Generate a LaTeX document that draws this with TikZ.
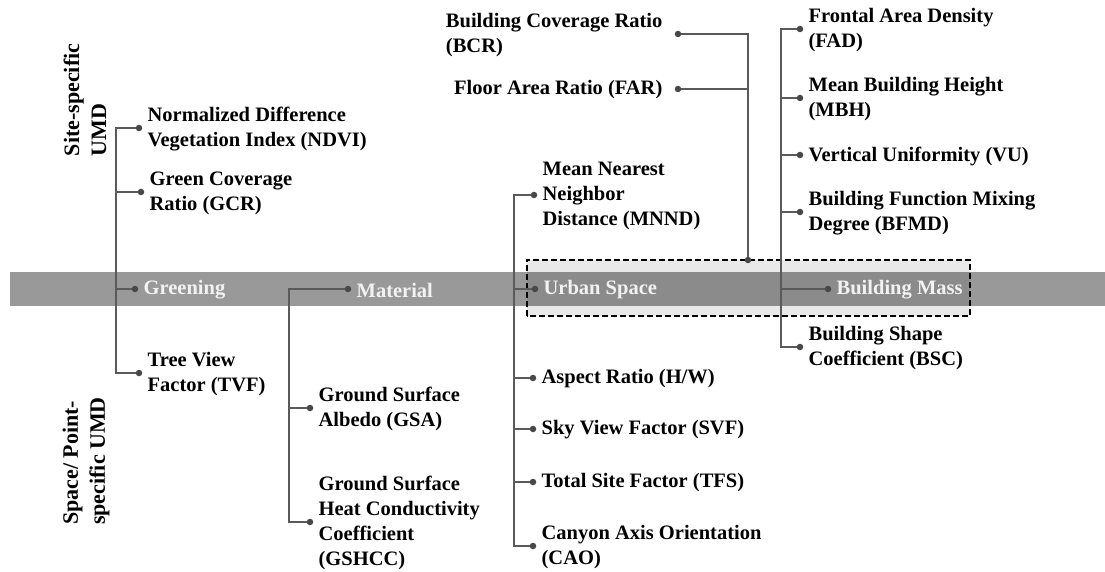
\documentclass[tikz,border=0pt]{standalone}
\usepackage{fontspec}
\setmainfont{Liberation Serif}
\usetikzlibrary{shapes,arrows}
\definecolor{bandgray}{HTML}{999999}
\definecolor{banddark}{HTML}{8B8B8B}
\definecolor{boxgray}{HTML}{E9E9E9}
\definecolor{linegray}{HTML}{5A5A5A}
\definecolor{dotgray}{HTML}{484848}

\begin{document}
\begin{tikzpicture}[x=1pt,y=-1pt]
	\tikzstyle{leaf}=[anchor=west,align=left,inner xsep=5pt,inner ysep=0pt,
	yshift=-1pt,font=\bfseries\fontsize{20.5}{25}\selectfont]
	\tikzstyle{leafl}=[leaf,anchor=east,inner xsep=12pt]
	\tikzstyle{main}=[leaf,text=white!95!black]
	\tikzstyle{side}=[rotate=90,align=left,inner sep=0pt,
	font=\bfseries\fontsize{22}{27}\selectfont]
	\tikzstyle{dot}=[circle,fill=dotgray,inner sep=0pt,minimum size=6.5pt]
	\tikzstyle{focusbox}=[rectangle,fill=boxgray,inner sep=0pt,
	minimum width=443pt,minimum height=56pt]
	\tikzstyle{focusline}=[draw=black,line width=1.6pt,dash pattern=on 6pt off 3pt]
	\tikzstyle{link}=[draw=linegray,line width=1.2pt]

	\useasboundingbox (0,0) rectangle (1105,572);

	\node[focusbox] (focus) at (748.5,288) {};
	\fill[bandgray] (10,272) rectangle (1105,306);
	\fill[banddark] (focus.west |- 0,272) rectangle (focus.east |- 0,306);
	\draw[focusline] (focus.south west) rectangle (focus.north east);

	\node[side] (site) at (85,100) {Site-specific\\UMD};
	\node[side] (space) at (86,461) {Space/ Point-\\specific UMD};

	\coordinate (tG) at (116,0);
	\coordinate (tM) at (289,0);
	\coordinate (tU) at (514,0);
	\coordinate (tB) at (781,0);
	\coordinate (tJ) at (748,0);

	\node[dot] (dNDVI) at (139,128) {};
	\node[dot] (dGCR) at (141,192) {};
	\node[dot] (dGre) at (135,289) {};
	\node[dot] (dTVF) at (139,373) {};
	\node[dot] (dMat) at (348,289) {};
	\node[dot] (dGSA) at (310,408) {};
	\node[dot] (dGSHCC) at (310,522) {};
	\node[dot] (dMNND) at (534,195) {};
	\node[dot] (dUS) at (535,289) {};
	\node[dot] (dAR) at (533,378) {};
	\node[dot] (dSVF) at (533,429) {};
	\node[dot] (dTFS) at (533,482) {};
	\node[dot] (dCAO) at (533,546) {};
	\node[dot] (dBCR) at (678,34) {};
	\node[dot] (dFAR) at (678,89) {};
	\node[dot] (dJoin) at (748,260) {};
	\node[dot] (dFAD) at (800,29) {};
	\node[dot] (dMBH) at (800,98) {};
	\node[dot] (dVU) at (800,155) {};
	\node[dot] (dBFMD) at (800,212) {};
	\node[dot] (dBM) at (828,289) {};
	\node[dot] (dBSC) at (800,347) {};

	\node[leaf] (NDVI) at (dNDVI.east) {Normalized Difference\\Vegetation Index (NDVI)};
	\node[leaf] (GCR) at (dGCR.east) {Green Coverage\\Ratio (GCR)};
	\node[main] (Gre) at (dGre.east) {Greening};
	\node[leaf] (TVF) at (dTVF.east) {Tree View\\Factor (TVF)};
	\node[main] (Mat) at (dMat.east) {Material};
	\node[leaf] (GSA) at (dGSA.east) {Ground Surface\\Albedo (GSA)};
	\node[leaf] (GSHCC) at (dGSHCC.east) {Ground Surface\\Heat Conductivity\\Coefficient\\(GSHCC)};
	\node[leaf] (MNND) at (dMNND.east) {Mean Nearest\\Neighbor\\Distance (MNND)};
	\node[main] (US) at (dUS.east) {Urban Space};
	\node[leaf] (AR) at (dAR.east) {Aspect Ratio (H/W)};
	\node[leaf] (SVF) at (dSVF.east) {Sky View Factor (SVF)};
	\node[leaf] (TFS) at (dTFS.east) {Total Site Factor (TFS)};
	\node[leaf] (CAO) at (dCAO.east) {Canyon Axis Orientation\\(CAO)};
	\node[leafl] (BCR) at (dBCR.west) {Building Coverage Ratio\\(BCR)};
	\node[leafl] (FAR) at (dFAR.west) {Floor Area Ratio (FAR)};
	\node[leaf] (FAD) at (dFAD.east) {Frontal Area Density\\(FAD)};
	\node[leaf] (MBH) at (dMBH.east) {Mean Building Height\\(MBH)};
	\node[leaf] (VU) at (dVU.east) {Vertical Uniformity (VU)};
	\node[leaf] (BFMD) at (dBFMD.east) {Building Function Mixing\\Degree (BFMD)};
	\node[main] (BM) at (dBM.east) {Building Mass};
	\node[leaf] (BSC) at (dBSC.east) {Building Shape\\Coefficient (BSC)};

	\draw[link] (dNDVI) -- (dNDVI -| tG) -- (dTVF -| tG) -- (dTVF);
	\draw[link] (dGCR) -- (dGCR -| tG);
	\draw[link] (dGre) -- (dGre -| tG);

	\draw[link] (dMat) -- (dMat -| tM) -- (dGSHCC -| tM) -- (dGSHCC);
	\draw[link] (dGSA) -- (dGSA -| tM);

	\draw[link] (dMNND) -- (dMNND -| tU) -- (dCAO -| tU) -- (dCAO);
	\draw[link] (dUS) -- (dUS -| tU);
	\draw[link] (dAR) -- (dAR -| tU);
	\draw[link] (dSVF) -- (dSVF -| tU);
	\draw[link] (dTFS) -- (dTFS -| tU);

	\draw[link] (dBCR) -- (dBCR -| tJ) -- (dJoin);
	\draw[link] (dFAR) -- (dFAR -| tJ);

	\draw[link] (dFAD) -- (dFAD -| tB) -- (dBSC -| tB) -- (dBSC);
	\draw[link] (dMBH) -- (dMBH -| tB);
	\draw[link] (dVU) -- (dVU -| tB);
	\draw[link] (dBFMD) -- (dBFMD -| tB);
	\draw[link] (dBM) -- (dBM -| tB);
\end{tikzpicture}
\end{document}
